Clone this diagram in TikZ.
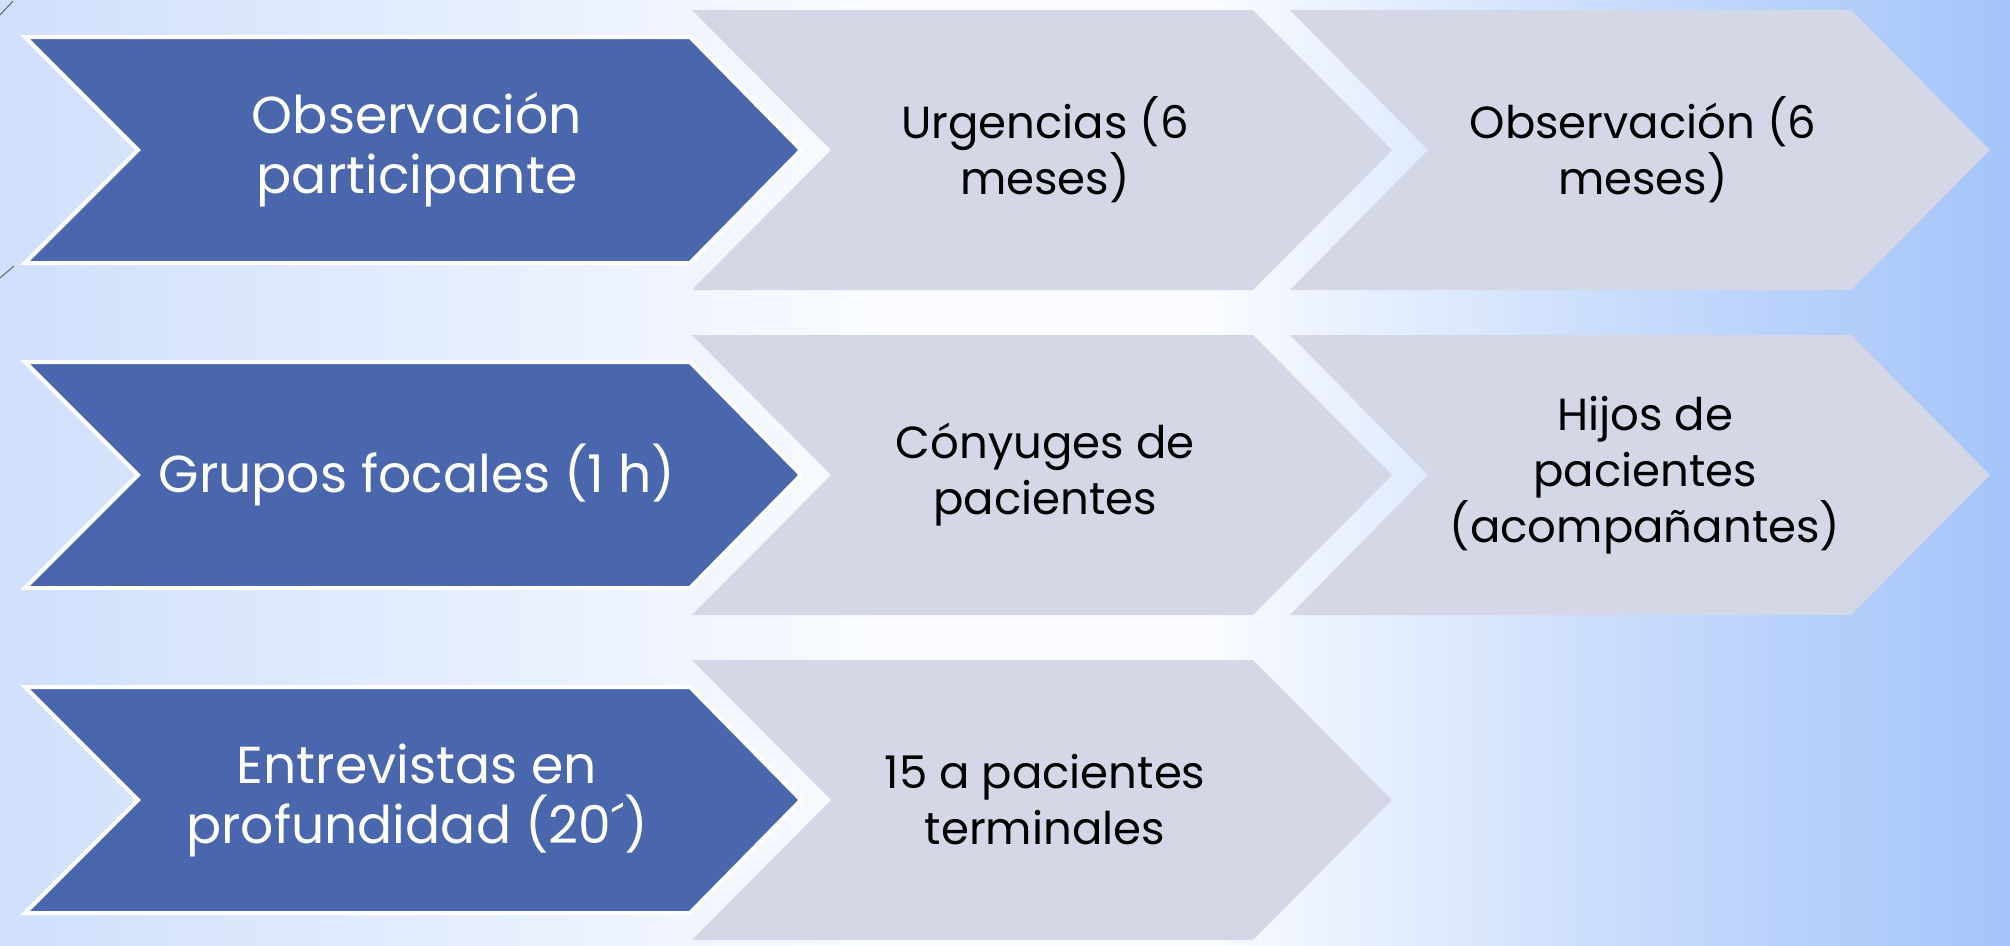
\documentclass[tikz,border=0pt]{standalone}
\usepackage{fontspec}
\setmainfont{Poppins}
\definecolor{chevblue}{HTML}{4A67AD}
\definecolor{chevgray}{HTML}{D3D7E6}
\definecolor{bgleft}{HTML}{CFDFFC}
\definecolor{bgright}{HTML}{A4C4F9}
\definecolor{bgmid}{HTML}{FAFCFF}
\definecolor{bgmr}{HTML}{C6DAFC}
\pgfdeclarehorizontalshading{bgshade}{100bp}{color(0bp)=(bgleft); color(25bp)=(bgleft); color(47bp)=(bgmid); color(55bp)=(bgmid); color(66bp)=(bgmr); color(75bp)=(bgright); color(100bp)=(bgright)}
\begin{document}
\begin{tikzpicture}[x=1pt,y=-1pt,
  bluechev/.style={fill=chevblue,draw=white,line width=4pt,line join=miter},
  graychev/.style={fill=chevgray,draw=none},
  bluetxt/.style={text=white,font=\fontsize{52}{60}\selectfont,align=center,inner sep=0pt},
  graytxt/.style={text=black,font=\fontsize{45}{56}\selectfont,align=center,inner sep=0pt},
  artifact/.style={draw=black!60,line width=1pt}]
\useasboundingbox (0,0) rectangle (2010,945);
\shade[shading=bgshade] (0,0) rectangle (2010,945);
\draw[artifact] (0,15) -- (13,1);
\draw[artifact] (0,278) -- (14,266);
% row chevrons
\foreach \dy in {0,325,650}{
  \begin{scope}[shift={(0,\dy)}]
    \draw[bluechev] (25,37) -- (690,37) -- (801,150) -- (690,263) -- (25,263) -- (138,150) -- cycle;
    \fill[graychev] (692,10) -- (1253,10) -- (1392,150) -- (1253,290) -- (692,290) -- (831,150) -- cycle;
  \end{scope}
}
\foreach \dy in {0,325}{
  \fill[graychev] (1290,10+\dy) -- (1851,10+\dy) -- (1990,150+\dy) -- (1851,290+\dy) -- (1290,290+\dy) -- (1428,150+\dy) -- cycle;
}
% texts
\node[bluetxt] (b1) at (417,150) {Observación\\participante};
\node[graytxt] (g11) at (1045,150) {Urgencias (6\\meses)};
\node[graytxt] (g12) at (1643,150) {Observación (6\\meses)};
\node[bluetxt] (b2) at (417,475) {Grupos focales (1 h)};
\node[graytxt] (g21) at (1045,475) {Cónyuges de\\pacientes};
\node[graytxt] (g22) at (1645,475) {Hijos de\\pacientes\\(acompañantes)};
\node[bluetxt] (b3) at (417,800) {Entrevistas en\\profundidad (20´)};
\node[graytxt] (g31) at (1045,800) {15 a pacientes\\terminales};
\end{tikzpicture}
\end{document}
